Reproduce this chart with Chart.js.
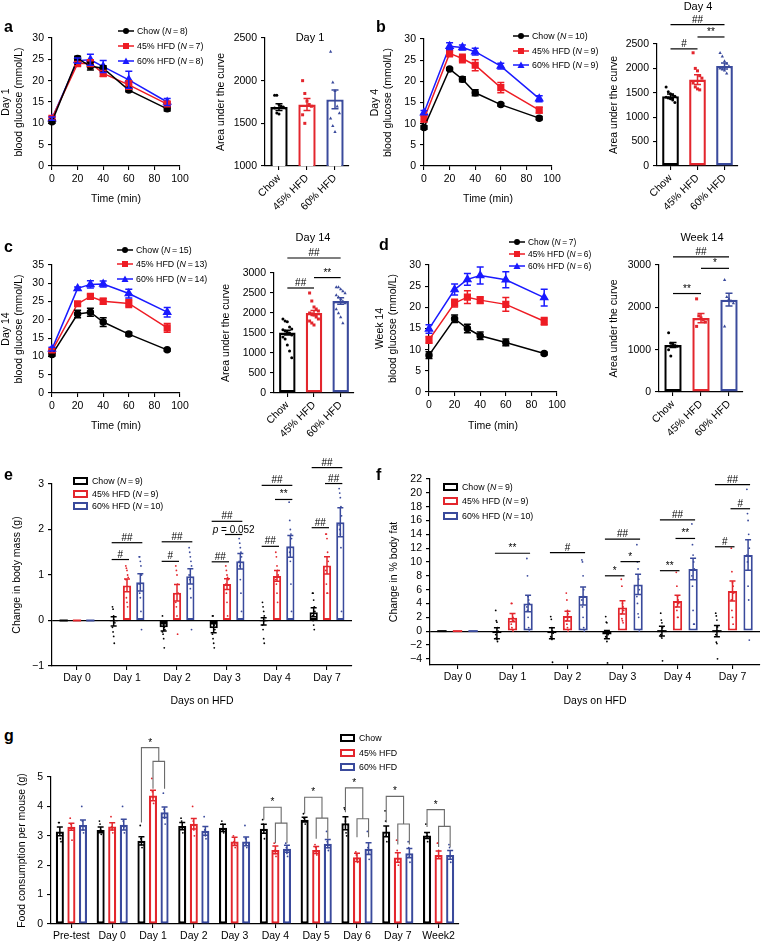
<!DOCTYPE html>
<html>
<head>
<meta charset="utf-8">
<title>Glucose tolerance, body mass and food intake</title>
<script src="https://cdn.jsdelivr.net/npm/chart.js@4.4.1/dist/chart.umd.min.js"></script>
<style>
  body { margin: 0; background: #fff; }
  #fig { position: relative; width: 762px; height: 943px; overflow: hidden; font-family: "Liberation Sans", Arial, sans-serif; color: #000; }
  #fig canvas { position: absolute; }
  .letter { position: absolute; font-size: 16px; font-weight: bold; transform: translateY(-50%); }
  .ttl { position: absolute; font-size: 11px; transform: translate(-50%, -50%); white-space: nowrap; }
  .leg { position: absolute; font-size: 8.8px; white-space: nowrap; display: flex; align-items: center; transform: translateY(-50%); }
  .leg svg { margin-right: 3px; }
</style>
</head>
<body>
<div id="fig"></div>
<script>
// ---- data ----
const times = [0, 20, 30, 40, 60, 90];
const groups = ['Chow', '45% HFD', '60% HFD'];

// a: day 1
const aN = [8, 7, 8];
const aChow = [10.4, 25.2, 23.4, 22.9, 17.8, 13.4];
const aChowErr = [0.4, 0.5, 0.9, 0.6, 0.4, 0.5];
const a45 = [11.2, 24.0, 24.1, 21.7, 19.0, 14.5];
const a45Err = [0.4, 0.5, 0.8, 0.7, 1.0, 0.6];
const a60 = [11.1, 24.7, 24.9, 23.3, 20.2, 15.0];
const a60Err = [0.4, 0.6, 1.3, 1.4, 2.0, 0.8];
const aAuc = [1690, 1720, 1780];
const aAucErr = [40, 70, 110];
const aDots = [
  [1830, 1830, 1720, 1700, 1690, 1680, 1620, 1610],
  [2000, 1850, 1760, 1720, 1700, 1600, 1500],
  [2340, 1980, 1880, 1700, 1620, 1560, 1470, 1400]
];

// b: day 4
const bN = [10, 9, 9];
const bChow = [9.1, 22.9, 20.5, 17.3, 14.5, 11.3];
const bChowErr = [0.4, 0.3, 0.6, 0.7, 0.3, 0.4];
const b45 = [11.1, 26.6, 25.4, 23.8, 18.5, 13.2];
const b45Err = [0.7, 0.8, 1.0, 1.3, 1.2, 0.7];
const b60 = [12.6, 28.3, 28.0, 27.0, 23.6, 15.9];
const b60Err = [0.5, 0.8, 0.6, 0.8, 0.7, 0.7];
const bAuc = [1430, 1770, 2050];
const bAucErr = [45, 100, 60];
const bDots = [
  [1620, 1520, 1480, 1450, 1430, 1410, 1400, 1380, 1350, 1300],
  [2320, 2000, 1950, 1850, 1800, 1700, 1620, 1580, 1560],
  [2320, 2250, 2150, 2100, 2050, 2000, 1980, 1960, 1900]
];
const bSig = [[0, 1, 2400, '#'], [1, 2, 2644, '**'], [0, 2, 2898, '##']];

// c: day 14
const cN = [15, 13, 14];
const cChow = [10.5, 21.6, 22.1, 19.4, 16.1, 11.8];
const cChowErr = [0.4, 1.0, 1.1, 1.2, 0.5, 0.3];
const c45 = [11.5, 24.4, 26.4, 25.1, 24.5, 17.8];
const c45Err = [0.5, 0.5, 0.5, 0.8, 1.1, 1.2];
const c60 = [12.0, 28.6, 29.7, 29.8, 27.2, 22.1];
const c60Err = [0.5, 0.4, 1.0, 0.8, 1.2, 1.3];
const cAuc = [1510, 2000, 2300];
const cAucErr = [60, 60, 80];
const cDots = [
  [1850, 1800, 1780, 1650, 1600, 1580, 1550, 1520, 1500, 1450, 1400, 1350, 1200, 1050, 880],
  [2500, 2300, 2150, 2100, 2050, 2000, 1980, 1950, 1900, 1850, 1800, 1750, 1700],
  [2650, 2650, 2600, 2550, 2500, 2450, 2400, 2350, 2300, 2250, 2100, 2000, 1900, 1750]
];
const cSig = [[0, 1, 2625, '##'], [1, 2, 2885, '**'], [0, 2, 3375, '##']];

// d: week 14
const dN = [7, 6, 6];
const dChow = [8.7, 17.3, 15.0, 13.3, 11.7, 9.1];
const dChowErr = [0.8, 0.9, 1.0, 0.9, 0.8, 0.3];
const d45 = [12.3, 21.0, 22.4, 21.7, 20.7, 16.7];
const d45Err = [0.8, 0.9, 1.5, 0.8, 1.6, 0.9];
const d60 = [14.9, 24.2, 26.6, 27.5, 26.5, 22.3];
const d60Err = [1.0, 1.3, 1.4, 2.0, 1.9, 2.0];
const dAuc = [1110, 1746, 2180];
const dAucErr = [60, 110, 150];
const dDots = [
  [1400, 1150, 1120, 1100, 1080, 1000, 850],
  [2200, 1800, 1750, 1700, 1650, 1550],
  [2650, 2250, 2200, 2150, 2100, 1550]
];
const dSig = [[0, 1, 2326, '**'], [1, 2, 2921, '*'], [0, 2, 3190, '##']];

// e: body mass
const days = ['Day 0', 'Day 1', 'Day 2', 'Day 3', 'Day 4', 'Day 7'];
const eN = [9, 9, 10];
const eChow = [0, -0.02, -0.15, -0.17, -0.02, 0.18];
const eChowErr = [0, 0.1, 0.08, 0.1, 0.08, 0.1];
const e45 = [0, 0.77, 0.61, 0.80, 0.98, 1.21];
const e45Err = [0, 0.14, 0.18, 0.12, 0.12, 0.19];
const e60 = [0, 0.84, 0.97, 1.30, 1.63, 2.16];
const e60Err = [0, 0.19, 0.17, 0.17, 0.24, 0.32];
const eChowDots = [[], [0.3, 0.25, 0.1, 0, -0.05, -0.15, -0.25, -0.35, -0.5], [0.1, -0.05, -0.1, -0.15, -0.2, -0.25, -0.3, -0.4, -0.6], [0.1, 0.1, -0.05, -0.1, -0.2, -0.3, -0.4, -0.5, -0.6], [0.4, 0.3, 0.2, 0.1, 0, -0.1, -0.2, -0.4, -0.5], [0.6, 0.6, 0.45, 0.3, 0.2, 0.1, 0, -0.1, -0.2]];
const e45Dots = [[], [1.2, 1.15, 1.1, 1.0, 0.95, 0.9, 0.5, 0.4, 0.3], [1.2, 1.1, 1.0, 0.8, 0.6, 0.4, 0.3, 0.1, -0.3], [1.2, 1.1, 1.0, 0.95, 0.9, 0.8, 0.6, 0.4, 0.1], [1.5, 1.4, 1.2, 1.1, 1.0, 0.9, 0.8, 0.6, 0.4], [1.9, 1.9, 1.8, 1.5, 1.3, 1.1, 0.8, 0.6, 0.6]];
const e60Dots = [[], [1.4, 1.4, 1.3, 1.2, 1.0, 0.8, 0.6, 0.5, 0.2, -0.2], [1.6, 1.5, 1.4, 1.3, 1.2, 1.0, 0.9, 0.7, 0.5, -0.2], [1.8, 1.7, 1.6, 1.5, 1.4, 1.3, 1.2, 0.9, 0.6, 0.2], [2.6, 2.2, 2.0, 1.9, 1.8, 1.6, 1.5, 1.3, 0.8, 0.2], [2.9, 2.8, 2.7, 2.5, 2.3, 2.1, 2.0, 1.9, 1.6, 0.2]];
const eSig = [
  [1, 0, 1, 1.34, '#'], [1, 0, 2, 1.71, '##'],
  [2, 0, 1, 1.30, '#'], [2, 0, 2, 1.73, '##'],
  [3, 0, 1, 1.29, '##'], [3, 1, 2, 1.89, 'p = 0.052'], [3, 0, 2, 2.18, '##'],
  [4, 0, 1, 1.63, '##'], [4, 1, 2, 2.66, '**'], [4, 0, 2, 2.97, '##'],
  [5, 0, 1, 2.04, '##'], [5, 1, 2, 3.01, '##'], [5, 0, 2, 3.36, '##']
];

// f: body fat
const fTicks = [-4, -2, 0, 2, 4, 6, 8, 10, 12, 14, 16, 18, 20, 22];
const fChow = [0, -0.3, -0.3, -0.5, 0, 0];
const fChowErr = [0, 0.8, 0.8, 0.6, 0.7, 0.8];
const f45 = [0, 1.95, 2.17, 3.43, 4.35, 5.8];
const f45Err = [0, 0.6, 0.7, 0.95, 0.85, 1.45];
const f60 = [0, 4.0, 5.07, 6.76, 8.99, 11.0];
const f60Err = [0, 1.2, 1.3, 1.45, 1.55, 2.2];
const fChowDots = [[], [3, 1.5, 1.3, 0.5, 0, -0.5, -1, -1.2, -1.5], [2.1, 1.7, 0.5, 0, -0.3, -0.8, -1, -1.2, -4.5], [2.1, 1.3, 1.2, 0, -0.5, -0.8, -1, -1.5, -4.6], [2.6, 1.6, 1.2, 0.5, 0, -0.5, -0.8, -1, -4.3], [2.6, 2.2, 1.6, 0.6, 0, -0.5, -1.6, -1.8, -4.0]];
const f45Dots = [[], [4, 4, 2.5, 2, 1.5, 1, 0.5, 0.2, 0], [5.5, 4.5, 3, 2.5, 2, 1.5, 1, 0.5, 0], [7.5, 6.5, 4, 3.5, 3, 2.5, 1.8, 1.5, 1.2], [8.5, 6.5, 5, 4.5, 4, 3.5, 3, 2, 2], [12, 8.6, 7, 6.5, 5.5, 4.5, 3, 2, 1]];
const f60Dots = [[], [10.5, 8, 5, 4.5, 4, 3.5, 3, 2, 0.5, 0], [10.3, 10, 8, 6, 5, 4.5, 3.5, 2, 0.5, 0], [12.5, 10, 9, 7.5, 6, 5, 4, 2.5, 2, 0], [15.5, 12.5, 11, 10, 9, 8, 6.5, 3, 1, 1], [20.5, 17, 16, 14, 12, 11, 10, 6.5, 4.5, -1.3]];
const fSig = [
  [1, 0, 2, 11.26, '**'],
  [2, 0, 2, 11.35, '#'],
  [3, 0, 1, 8.0, '*'], [3, 1, 2, 10.05, '*'], [3, 0, 2, 13.3, '##'],
  [4, 0, 1, 8.74, '**'], [4, 1, 2, 13.4, '**'], [4, 0, 2, 16.1, '##'],
  [5, 0, 1, 12.2, '#'], [5, 1, 2, 17.7, '#'], [5, 0, 2, 21.2, '##']
];

// g: food consumption
const gDays = ['Pre-test', 'Day 0', 'Day 1', 'Day 2', 'Day 3', 'Day 4', 'Day 5', 'Day 6', 'Day 7', 'Week2'];
const gChow = [3.15, 3.2, 2.83, 3.33, 3.27, 3.24, 3.55, 3.43, 3.15, 3.01];
const gChowErr = [0.15, 0.1, 0.14, 0.12, 0.12, 0.15, 0.08, 0.22, 0.18, 0.1];
const g45 = [3.31, 3.32, 4.37, 3.41, 2.81, 2.52, 2.52, 2.27, 2.26, 2.35];
const g45Err = [0.12, 0.12, 0.18, 0.18, 0.14, 0.13, 0.12, 0.14, 0.16, 0.13];
const g60 = [3.37, 3.38, 3.8, 3.17, 2.81, 2.56, 2.73, 2.56, 2.41, 2.35];
const g60Err = [0.17, 0.18, 0.18, 0.15, 0.15, 0.12, 0.14, 0.2, 0.16, 0.15];
const gChowDots = [[3.45, 3.45, 3.1, 2.9, 2.8], [3.5, 3.4, 3.2, 3.05], [3.35, 2.9, 2.7, 2.6], [3.6, 3.5, 3.3, 3.1], [3.5, 3.4, 3.2, 3.1], [3.55, 3.4, 3.2, 2.9], [3.75, 3.6, 3.5, 3.4], [3.95, 3.9, 3.5, 3.1, 3.0], [3.85, 3.5, 3.0, 2.8], [3.4, 3.1, 3.0, 2.8]];
const g45Dots = [[3.6, 3.4, 3.2, 2.85], [3.65, 3.3, 3.2, 3.1], [4.95, 4.5, 4.3, 4.1], [4.0, 3.5, 3.2, 3.0], [3.0, 2.8, 2.7, 2.6], [2.75, 2.5, 2.4, 2.3], [2.7, 2.6, 2.5, 2.35], [2.45, 2.35, 2.2, 2.1], [2.85, 2.5, 2.2, 2.0], [2.75, 2.75, 2.5, 2.3]];
const g60Dots = [[4.0, 3.5, 3.2, 3.1], [4.0, 3.5, 3.3, 3.1], [4.45, 3.9, 3.6, 3.4], [3.65, 3.2, 3.0, 2.9], [3.35, 2.9, 2.7, 2.6], [2.75, 2.6, 2.4, 2.3], [3.15, 2.8, 2.6, 2.5], [3.15, 2.6, 2.4, 2.2], [2.8, 2.6, 2.3, 2.1], [2.7, 2.6, 2.3, 2.1]];
// [day, top line, chow leg end, lower bracket, lower legs end, label]
const gSig = [
  [2, 6.0, 3.45, 5.53, 4.6, '*'],
  [5, 3.97, 3.55, 3.43, 2.75, '*'],
  [6, 4.31, 3.75, 3.6, 2.9, '*'],
  [7, 4.63, 3.8, 3.58, 2.95, '*'],
  [8, 4.34, 3.45, 3.4, 2.7, '*'],
  [9, 3.89, 3.3, 3.32, 2.62, '*']
];

// ---- styling ----
const FONT = '"Liberation Sans", Arial, sans-serif';
const BLACK = '#000000', RED_L = '#ee1c24', BLUE_L = '#1a1aff', RED_B = '#e3262d', BLUE_B = '#3a4a9c';
const tickFont = { family: FONT, size: 10.5 };
const titleFont = { family: FONT, size: 10.5 };
Chart.defaults.font.family = FONT;
Chart.defaults.color = '#000';

const fig = document.getElementById('fig');

function drawDot(ctx, shape, x, y, r, col) {
  ctx.fillStyle = col;
  ctx.beginPath();
  if (shape === 'rect') ctx.rect(x - r, y - r, 2 * r, 2 * r);
  else if (shape === 'triangle') {
    ctx.moveTo(x, y - r * 1.2); ctx.lineTo(x + r * 1.1, y + r * 0.8); ctx.lineTo(x - r * 1.1, y + r * 0.8); ctx.closePath();
  } else ctx.arc(x, y, r, 0, Math.PI * 2);
  ctx.fill();
}

function sigText(ctx, label, x, y) {
  ctx.fillStyle = '#000';
  ctx.textBaseline = 'alphabetic';
  if (label.startsWith('p ')) {
    const rest = label.slice(1);
    ctx.font = 'italic 10px ' + FONT; const w1 = ctx.measureText('p').width;
    ctx.font = '10px ' + FONT; const w2 = ctx.measureText(rest).width;
    const x0 = x - (w1 + w2) / 2;
    ctx.textAlign = 'left';
    ctx.font = 'italic 10px ' + FONT; ctx.fillText('p', x0, y);
    ctx.font = '10px ' + FONT; ctx.fillText(rest, x0 + w1, y);
  } else {
    ctx.textAlign = 'center';
    ctx.font = '10px ' + FONT;
    ctx.fillText(label, x, y);
  }
}

// error bars, scatter dots and significance marks
const markers = {
  id: 'markers',
  afterDatasetsDraw(chart) {
    const ctx = chart.ctx;
    const y = chart.scales.y;
    const notes = chart.data.notes || {};
    ctx.save();
    chart.data.datasets.forEach((ds, di) => {
      const meta = chart.getDatasetMeta(di);
      meta.data.forEach((el, j) => {
        const raw = ds.data[j];
        const v = typeof raw === 'object' ? raw.y : raw;
        const col = Array.isArray(ds.borderColor) ? ds.borderColor[j] : ds.borderColor;
        if (ds.dots && ds.dots[j]) {
          const shape = Array.isArray(ds.dotStyle) ? ds.dotStyle[j] : (ds.dotStyle || 'circle');
          ds.dots[j].forEach((d, k) => {
            const dx = ((k % 5) - 2) * (notes.jitter || 0);
            drawDot(ctx, shape, el.x + dx, y.getPixelForValue(d), notes.dotSize || 1.5, col);
          });
        }
        if (meta.type === 'bar' && v === 0) {
          const y0 = y.getPixelForValue(0);
          ctx.strokeStyle = col; ctx.lineWidth = ds.borderWidth;
          ctx.beginPath(); ctx.moveTo(el.x - el.width / 2, y0); ctx.lineTo(el.x + el.width / 2, y0); ctx.stroke();
        }
        if (ds.errors && ds.errors[j]) {
          const e = ds.errors[j];
          const top = y.getPixelForValue(v + e), bot = y.getPixelForValue(v - e);
          const cap = notes.cap || 4;
          ctx.strokeStyle = col; ctx.lineWidth = notes.errWidth || 1.5;
          ctx.beginPath();
          ctx.moveTo(el.x, top); ctx.lineTo(el.x, bot);
          ctx.moveTo(el.x - cap, top); ctx.lineTo(el.x + cap, top);
          ctx.moveTo(el.x - cap, bot); ctx.lineTo(el.x + cap, bot);
          ctx.stroke();
        }
      });
    });
    (notes.pairs || []).forEach(p => {
      let x1, x2, val, label;
      if (p.length === 4) {
        const m = chart.getDatasetMeta(0);
        x1 = m.data[p[0]].x; x2 = m.data[p[1]].x; val = p[2]; label = p[3];
      } else {
        x1 = chart.getDatasetMeta(p[1]).data[p[0]].x; x2 = chart.getDatasetMeta(p[2]).data[p[0]].x; val = p[3]; label = p[4];
      }
      const ext = notes.ext || 0;
      const py = y.getPixelForValue(val);
      ctx.strokeStyle = '#000'; ctx.lineWidth = 1.2;
      ctx.beginPath(); ctx.moveTo(x1 - ext, py); ctx.lineTo(x2 + ext, py); ctx.stroke();
      sigText(ctx, label, (x1 + x2) / 2, py - 2);
    });
    (notes.brackets || []).forEach(b => {
      const [cat, top, chowLeg, low, legEnd, label] = b;
      const xc = chart.getDatasetMeta(0).data[cat].x;
      const xa = chart.getDatasetMeta(1).data[cat].x;
      const xb = chart.getDatasetMeta(2).data[cat].x;
      const xm = (xa + xb) / 2;
      const pt = y.getPixelForValue(top), pl = y.getPixelForValue(low);
      ctx.strokeStyle = '#6b6b6b'; ctx.lineWidth = 1.1;
      ctx.beginPath();
      ctx.moveTo(xc, y.getPixelForValue(chowLeg)); ctx.lineTo(xc, pt); ctx.lineTo(xm, pt); ctx.lineTo(xm, pl);
      ctx.moveTo(xa, y.getPixelForValue(legEnd)); ctx.lineTo(xa, pl); ctx.lineTo(xb, pl); ctx.lineTo(xb, y.getPixelForValue(legEnd));
      ctx.stroke();
      sigText(ctx, label, (xc + xm) / 2, pt - 2);
    });
    ctx.restore();
  }
};
Chart.register(markers);

// canvas rect [left, top, width, height], plot area [L, T, R, B]
function makeCanvas(cv, area) {
  const el = document.createElement('canvas');
  el.width = cv[2]; el.height = cv[3];
  el.style.left = cv[0] + 'px'; el.style.top = cv[1] + 'px';
  fig.appendChild(el);
  return {
    el,
    padTop: area[1] - cv[1],
    padRight: cv[0] + cv[2] - area[2],
    yWidth: area[0] - cv[0],
    xHeight: cv[1] + cv[3] - area[3]
  };
}

function yAxis(g, min, max, step, title, extra) {
  const ax = {
    min, max,
    ticks: { stepSize: step, font: tickFont, color: '#000', padding: 4, autoSkip: false,
      callback: v => String(v).replace('-', '\u2212') },
    grid: { drawOnChartArea: false, color: '#000', tickColor: '#000', tickLength: 4, lineWidth: 1.1 },
    border: { color: '#000', width: 1.2 },
    title: { display: true, text: title, font: titleFont, color: '#000', padding: { top: 0, bottom: 0 } },
    afterFit: s => { s.width = g.yWidth; }
  };
  return Object.assign(ax, extra || {});
}

// grid that only draws the zero reference line across the plot
const zeroGrid = {
  drawOnChartArea: true,
  color: c => (c.tick && c.tick.value === 0 ? '#000' : 'rgba(0,0,0,0)'),
  tickColor: '#000', tickLength: 4, lineWidth: 1.2
};

function xTime(g) {
  return {
    type: 'linear', min: 0, max: 100,
    ticks: { stepSize: 20, font: tickFont, color: '#000', padding: 3, maxRotation: 0, autoSkip: false },
    grid: { drawOnChartArea: false, color: '#000', tickLength: 4, lineWidth: 1.1 },
    border: { color: '#000', width: 1.2 },
    title: { display: true, text: 'Time (min)', font: titleFont, color: '#000', padding: { top: 0, bottom: 3 } },
    afterFit: s => { s.height = g.xHeight; }
  };
}

function xCat(g, rotation, title) {
  return {
    type: 'category', offset: true,
    ticks: { font: tickFont, color: '#000', padding: 2, minRotation: rotation, maxRotation: rotation, autoSkip: false },
    grid: { offset: false, drawOnChartArea: false, color: '#000', tickLength: 4, lineWidth: 1.1 },
    border: { color: '#000', width: 1.2 },
    title: { display: !!title, text: title || '', font: titleFont, color: '#000', padding: { top: 0, bottom: 3 } },
    afterFit: s => { s.height = g.xHeight; }
  };
}

function baseOptions(g, scales) {
  return {
    responsive: false, animation: false, events: [],
    layout: { padding: { top: g.padTop, right: g.padRight, left: 0, bottom: 0 } },
    plugins: { legend: { display: false }, tooltip: { enabled: false }, title: { display: false } },
    scales
  };
}

function glucoseChart(cv, area, series, yMax, dayLabel) {
  const g = makeCanvas(cv, area);
  const specs = [[BLACK, 'circle', 3], [RED_L, 'rect', 4], [BLUE_L, 'triangle', 4]];
  new Chart(g.el, {
    type: 'line',
    data: {
      datasets: series.map((s, i) => ({
        data: times.map((t, k) => ({ x: t, y: s[0][k] })),
        errors: s[1],
        borderColor: specs[i][0], backgroundColor: specs[i][0],
        pointStyle: specs[i][1], pointRadius: specs[i][2], borderWidth: 1.5, tension: 0, clip: false
      })),
      notes: { cap: 3.5, errWidth: 1.5 }
    },
    options: baseOptions(g, {
      x: xTime(g),
      y: yAxis(g, 0, yMax, 5, [dayLabel, 'blood glucose (mmol/L)'])
    })
  });
}

function aucChart(cv, area, values, errors, dots, min, max, step, pairs) {
  const g = makeCanvas(cv, area);
  new Chart(g.el, {
    type: 'bar',
    data: {
      labels: groups,
      datasets: [{
        data: values, errors, dots,
        borderColor: [BLACK, RED_B, BLUE_B], backgroundColor: '#fff',
        borderWidth: 2.4, borderSkipped: false, barPercentage: 0.62, categoryPercentage: 1,
        dotStyle: ['circle', 'rect', 'triangle']
      }],
      notes: { pairs, jitter: 2.2, dotSize: 1.5, cap: 3.5, ext: 0 }
    },
    options: baseOptions(g, {
      x: xCat(g, 45),
      y: yAxis(g, min, max, step, 'Area under the curve')
    })
  });
}

function groupChart(cv, area, labels, series, yOpts, xTitle, notes, catPct, barPct, bw) {
  const g = makeCanvas(cv, area);
  const cols = [BLACK, RED_B, BLUE_B];
  new Chart(g.el, {
    type: 'bar',
    data: {
      labels,
      datasets: series.map((s, i) => ({
        data: s[0], errors: s[1], dots: s[2],
        borderColor: cols[i], backgroundColor: '#fff', borderWidth: bw,
        borderSkipped: false, categoryPercentage: catPct, barPercentage: barPct
      })),
      notes
    },
    options: baseOptions(g, { x: xCat(g, 0, xTitle), y: yOpts(g) })
  });
}

// ---- panels a-d ----
glucoseChart([0, 0, 200, 208], [52, 38, 180, 166], [[aChow, aChowErr], [a45, a45Err], [a60, a60Err]], 30, 'Day 1');
aucChart([215, 0, 150, 215], [265, 38, 349, 166], aAuc, aAucErr, aDots, 1000, 2500, 500, []);
glucoseChart([369, 0, 203, 208], [424, 39, 552, 166], [[bChow, bChowErr], [b45, b45Err], [b60, b60Err]], 30, 'Day 4');
aucChart([608, 0, 154, 215], [657, 44, 738, 166], bAuc, bAucErr, bDots, 0, 2500, 500, bSig);
glucoseChart([0, 220, 200, 215], [52, 265, 180, 393], [[cChow, cChowErr], [c45, c45Err], [c60, c60Err]], 35, 'Day 14');
aucChart([220, 220, 150, 230], [274, 273, 354, 393], cAuc, cAucErr, cDots, 0, 3000, 500, cSig);
glucoseChart([374, 220, 200, 215], [429, 265, 557, 392], [[dChow, dChowErr], [d45, d45Err], [d60, d60Err]], 30, 'Week 14');
aucChart([608, 220, 154, 230], [659, 265, 743, 392], dAuc, dAucErr, dDots, 0, 3000, 1000, dSig);

// ---- panel e ----
groupChart([11, 440, 359, 270], [52, 484, 352, 666], days,
  [[eChow, eChowErr, eChowDots], [e45, e45Err, e45Dots], [e60, e60Err, e60Dots]],
  g => yAxis(g, -1, 3, 1, 'Change in body mass (g)', { grid: zeroGrid }),
  'Days on HFD', { pairs: eSig, jitter: 0.6, dotSize: 0.9, cap: 3, ext: 2 }, 0.8, 0.62, 2);

// ---- panel f ----
groupChart([388, 440, 374, 270], [430, 479, 760, 665], days,
  [[fChow, fChowErr, fChowDots], [f45, f45Err, f45Dots], [f60, f60Err, f60Dots]],
  g => yAxis(g, -4.9, 22, 2, 'Change in % body fat', { grid: zeroGrid, afterBuildTicks: s => { s.ticks = fTicks.map(v => ({ value: v })); } }),
  'Days on HFD', { pairs: fSig, jitter: 0.6, dotSize: 0.9, cap: 3, ext: 2 }, 0.85, 0.6, 2);

// ---- panel g ----
groupChart([16, 725, 450, 218], [51, 777, 459, 924], gDays,
  [[gChow, gChowErr, gChowDots], [g45, g45Err, g45Dots], [g60, g60Err, g60Dots]],
  g => yAxis(g, 0, 5, 1, 'Food consumption per mouse (g)'),
  '', { brackets: gSig, jitter: 0.6, dotSize: 0.9, cap: 3 }, 0.85, 0.7, 2.3);

// ---- text: letters, titles, legends ----
function addDiv(cls, html, left, top) {
  const d = document.createElement('div');
  d.className = cls; d.innerHTML = html;
  d.style.left = left + 'px'; d.style.top = top + 'px';
  fig.appendChild(d);
  return d;
}
[['a', 4, 27], ['b', 376, 27], ['c', 4, 247], ['d', 379, 245], ['e', 4, 475], ['f', 376, 475], ['g', 4, 736]]
  .forEach(l => addDiv('letter', l[0], l[1], l[2]));
[['Day 1', 310, 37], ['Day 4', 698, 6], ['Day 14', 313, 237], ['Week 14', 702, 237]]
  .forEach(t => addDiv('ttl', t[0], t[1], t[2]));

function lineLegend(left, tops, counts, size) {
  const items = [['Chow', BLACK, 'circle'], ['45% HFD', RED_L, 'rect'], ['60% HFD', BLUE_L, 'triangle']];
  items.forEach((it, i) => {
    const c = it[1];
    const mark = it[2] === 'circle' ? `<circle cx="8" cy="4" r="3" fill="${c}"/>`
      : it[2] === 'rect' ? `<rect x="5" y="1" width="6" height="6" fill="${c}"/>`
      : `<polygon points="8,0.5 11.5,7 4.5,7" fill="${c}"/>`;
    const d = addDiv('leg', `<svg width="16" height="8"><line x1="0" y1="4" x2="16" y2="4" stroke="${c}" stroke-width="1.5"/>${mark}</svg>${it[0]} (<i>N</i>&#8201;=&#8201;${counts[i]})`, left, tops[i]);
    if (size) d.style.fontSize = size + 'px';
  });
}
function barLegend(left, tops, counts) {
  const cols = [BLACK, RED_B, BLUE_B];
  groups.forEach((name, i) => {
    const txt = counts ? `${name} (<i>N</i>&#8201;=&#8201;${counts[i]})` : name;
    addDiv('leg', `<svg width="16" height="8"><rect x="1" y="1" width="13" height="6" fill="#fff" stroke="${cols[i]}" stroke-width="2"/></svg>${txt}`, left, tops[i]);
  });
}
lineLegend(118, [31, 46, 61], aN);
lineLegend(513, [36, 51, 65], bN);
lineLegend(117, [250, 264, 279], cN);
lineLegend(509, [242, 254, 266], dN, 8.4);
barLegend(73, [481, 494, 506], eN);
barLegend(443, [487, 501, 516], eN);
barLegend(340, [738, 753, 767], null);
</script>
</body>
</html>
